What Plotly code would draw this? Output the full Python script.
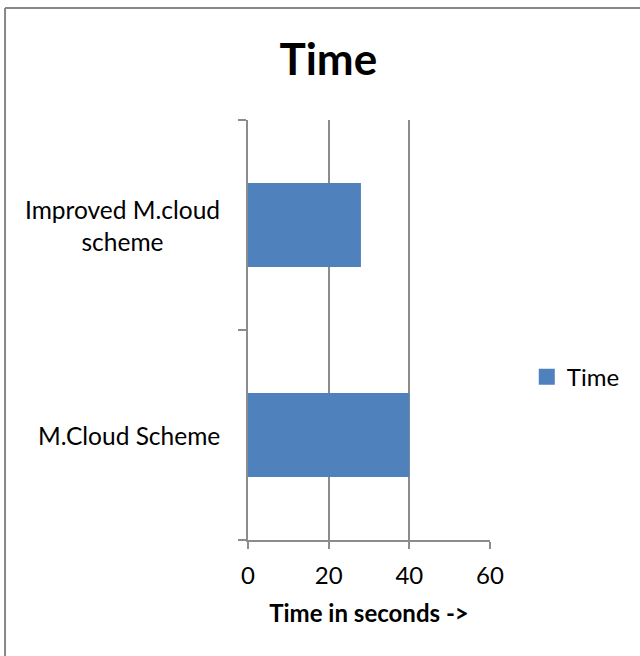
import plotly.graph_objects as go

categories = ["M.Cloud Scheme", "Improved M.cloud scheme"]
label_text = ["M.Cloud Scheme", "Improved M.cloud<br>scheme"]
values = [40, 28]
series_name = "Time"
x_ticks = [0, 20, 40, 60]

FONT = "Lato"
grid = "#8c8c8c"
bar_color = "#4F81BD"

fig = go.Figure()
fig.add_trace(go.Bar(
    y=categories, x=values, orientation="h", name=series_name,
    marker=dict(color=bar_color, line=dict(width=0)), width=0.4,
    showlegend=False,
))
# legend entry with a larger square swatch
fig.add_trace(go.Scatter(
    x=[None], y=[None], mode="markers", name=series_name,
    marker=dict(symbol="square", size=16, color=bar_color), showlegend=True,
))

for cat, lab in zip(categories, label_text):
    fig.add_annotation(x=-0.107, y=cat, xref="paper", yref="y", text=lab,
                       showarrow=False, xanchor="right", yanchor="middle", align="center",
                       font=dict(family=FONT, size=24.5, color="#000"))

fig.update_layout(
    width=640, height=656,
    margin=dict(l=248, r=150, t=120, b=116),
    paper_bgcolor="white", plot_bgcolor="white",
    title=dict(text="<b>Time</b>", x=0.513, xanchor="center", yref="container",
               y=1 - 60 / 656, yanchor="middle",
               font=dict(family=FONT, size=44, color="#000")),
    font=dict(family=FONT, size=24, color="#000"),
    legend=dict(x=1.152, xanchor="left", y=0.388, yanchor="middle",
                font=dict(family=FONT, size=24, color="#000"),
                bgcolor="rgba(0,0,0,0)"),
    xaxis=dict(range=[0, 60], tickvals=x_ticks, showgrid=True, gridcolor=grid, gridwidth=1.5,
               zeroline=False, showline=True, linecolor=grid, linewidth=1.5,
               ticks="outside", ticklen=7, tickcolor=grid, tickwidth=1.5,
               ticklabelstandoff=6,
               tickfont=dict(family=FONT, size=24, color="#000"),
               title=dict(text="<b>Time in seconds -></b>", standoff=18,
                          font=dict(family=FONT, size=24, color="#000"))),
    yaxis=dict(categoryorder="array", categoryarray=categories, showticklabels=False,
               showline=True, linecolor=grid, linewidth=1.5, showgrid=False,
               range=[-0.5, 1.5],
               ticks="outside", tickson="boundaries", ticklen=8, tickcolor=grid, tickwidth=1.5),
    shapes=[
        dict(type="line", xref="paper", yref="paper", x0=-1.004, x1=1.7, y0=1.2667, y1=1.2667,
             line=dict(color="#888888", width=2)),
        dict(type="line", xref="paper", yref="paper", x0=-1.004, x1=-1.004, y0=1.2667, y1=-0.3,
             line=dict(color="#888888", width=2)),
    ],
)

fig.write_html("out.html", config={"displayModeBar": False},
               post_script="document.body.style.margin='0px';")
